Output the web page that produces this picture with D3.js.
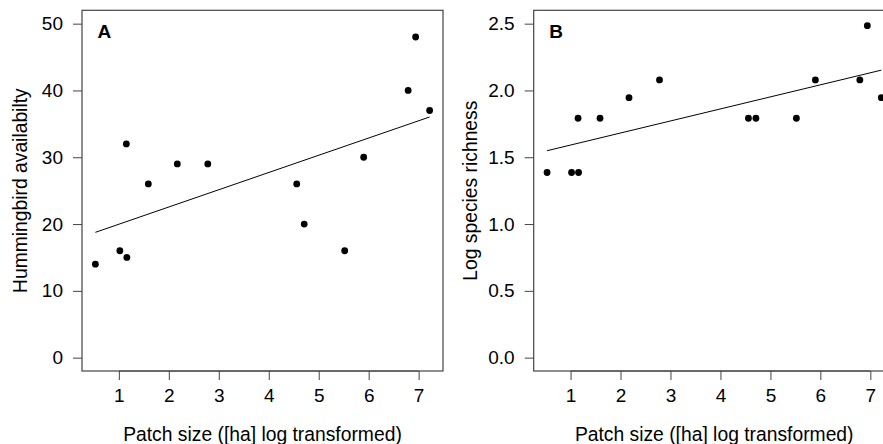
<!DOCTYPE html>
<html>
<head>
<meta charset="utf-8">
<script src="https://cdn.jsdelivr.net/npm/d3@7"></script>
<style>
  html, body { margin: 0; padding: 0; background: #fff; }
  svg { display: block; }
  text { font-family: "Liberation Sans", Arial, Helvetica, sans-serif; }
</style>
</head>
<body>
<svg id="chart" width="883" height="444"></svg>
<script>
// ---- data ----
const patchSize = [0.53, 1.02, 1.16, 1.15, 1.59, 2.17, 2.78, 4.56, 4.71, 5.52, 5.90, 6.79, 6.94, 7.22];
const hummingbirdAvailability = [14, 16, 15, 32, 26, 29, 29, 26, 20, 16, 30, 40, 48, 37];
const logSpeciesRichness = [1.386, 1.386, 1.386, 1.792, 1.792, 1.946, 2.079, 1.792, 1.792, 1.792, 2.079, 2.079, 2.485, 1.946];
const fitA = [[0.53, 18.76], [7.22, 36.03]];
const fitB = [[0.53, 1.549], [7.22, 2.152]];
const xTicks = [1, 2, 3, 4, 5, 6, 7];
const yTicksA = [0, 10, 20, 30, 40, 50];
const yTicksB = [0, 0.5, 1.0, 1.5, 2.0, 2.5];

const svg = d3.select("#chart");

function panel(opts) {
  const {left, right, top, bottom, xDomain, yDomain, ys, fit, yTicks, yFmt, yTitle, yTitleX, label} = opts;
  const x = d3.scaleLinear().domain(xDomain).range([left, right]);
  const y = d3.scaleLinear().domain(yDomain).range([bottom, top]);
  const g = svg.append("g");

  // x axis
  const xAxis = d3.axisBottom(x).tickValues(xTicks).tickFormat(d3.format("d")).tickSize(9).tickPadding(9);
  const gx = g.append("g").attr("transform", `translate(0,${bottom})`).call(xAxis);
  gx.select(".domain").remove();
  gx.append("line").attr("x1", x(xTicks[0])).attr("x2", x(xTicks[xTicks.length-1]))
    .attr("stroke", "#444").attr("stroke-width", 1);
  gx.selectAll(".tick line").attr("stroke", "#444");
  gx.selectAll(".tick text").attr("fill", "#000").style("font-size", "19px")
    .style("font-family", '"Liberation Sans", Arial, sans-serif');

  // y axis
  const yAxis = d3.axisLeft(y).tickValues(yTicks).tickFormat(yFmt).tickSize(9).tickPadding(10);
  const gy = g.append("g").attr("transform", `translate(${left},0)`).call(yAxis);
  gy.select(".domain").remove();
  gy.selectAll(".tick line").attr("stroke", "#444");
  gy.selectAll(".tick text").attr("fill", "#000").style("font-size", "19px")
    .style("font-family", '"Liberation Sans", Arial, sans-serif');

  // box
  g.append("rect").attr("x", left).attr("y", top).attr("width", right - left).attr("height", bottom - top)
    .attr("fill", "none").attr("stroke", "#444").attr("stroke-width", 1.2);

  // fit line
  g.append("line")
    .attr("x1", x(fit[0][0])).attr("y1", y(fit[0][1]))
    .attr("x2", x(fit[1][0])).attr("y2", y(fit[1][1]))
    .attr("stroke", "#000").attr("stroke-width", 1);

  // points
  g.append("g").selectAll("circle").data(patchSize.map((d, i) => [d, ys[i]])).join("circle")
    .attr("cx", d => x(d[0])).attr("cy", d => y(d[1])).attr("r", 3.4).attr("fill", "#000");

  // panel label
  g.append("text").attr("x", left + 15.5).attr("y", top + 27.5)
    .style("font-size", "19px").style("font-weight", "bold").attr("fill", "#000").text(label);

  // x title
  g.append("text").attr("x", (left + right) / 2).attr("y", 441)
    .attr("text-anchor", "middle").style("font-size", "19.3px").attr("fill", "#000")
    .text("Patch size ([ha] log transformed)");

  // y title
  g.append("text").attr("transform", `translate(${yTitleX},${(top + bottom) / 2}) rotate(-90)`)
    .attr("text-anchor", "middle").style("font-size", "19.3px").attr("fill", "#000")
    .text(yTitle);
}

panel({
  left: 82, right: 443, top: 10.3, bottom: 371,
  xDomain: [0.2624, 7.4876], yDomain: [-2, 52],
  ys: hummingbirdAvailability, fit: fitA, yTicks: yTicksA, yFmt: d3.format("d"),
  yTitle: "Hummingbird availabilty", yTitleX: 27, label: "A"
});

panel({
  left: 533.7, right: 894.7, top: 10.3, bottom: 371,
  xDomain: [0.2624, 7.4876], yDomain: [-0.1, 2.6],
  ys: logSpeciesRichness, fit: fitB, yTicks: yTicksB, yFmt: d3.format(".1f"),
  yTitle: "Log species richness", yTitleX: 476.5, label: "B"
});
</script>
</body>
</html>
